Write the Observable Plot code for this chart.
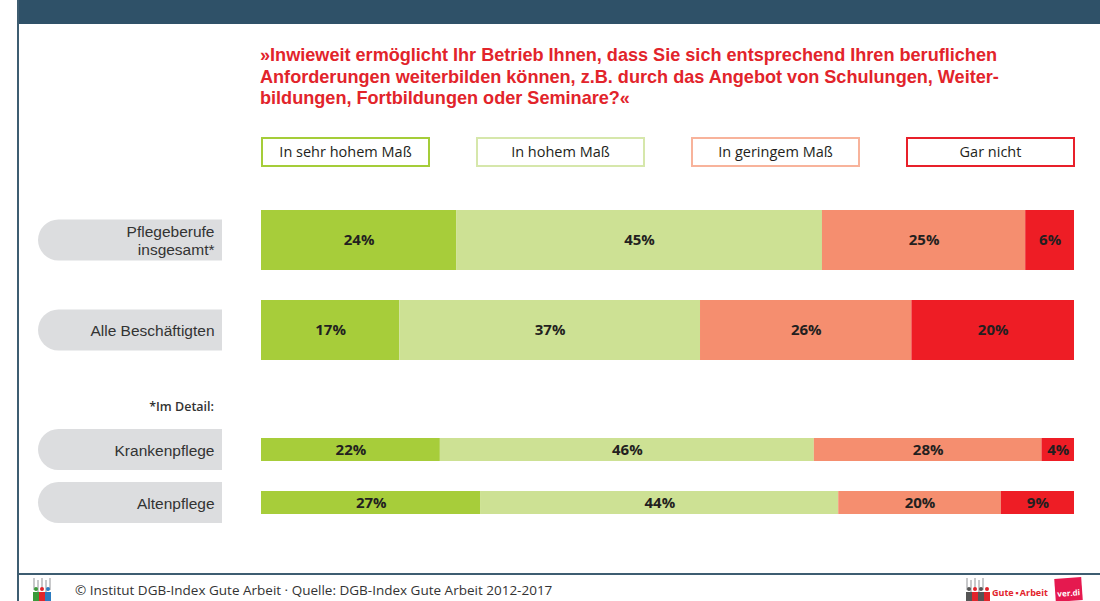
<!DOCTYPE html>
<html><head><meta charset="utf-8">
<script src="https://cdn.jsdelivr.net/npm/d3@7"></script>
<script src="https://cdn.jsdelivr.net/npm/@observablehq/plot@0.6"></script>
<style>
html,body{margin:0;padding:0;background:#fff;}
body{width:1100px;height:601px;position:relative;overflow:hidden;font-family:"Open Sans",sans-serif;color:#231f20;}
.abs{position:absolute;}
#header{left:17px;top:0;width:1083px;height:24px;background:#2f5168;}
#frameLeft{left:17px;top:0;width:2px;height:601px;background:#3e5d71;}
#footLine{left:17px;top:573px;width:1083px;height:2px;background:#3e5d71;}
#question{left:260px;top:44px;color:#e2242b;font-family:"Liberation Sans",Arial,sans-serif;font-size:18.5px;line-height:21.5px;font-weight:bold;white-space:nowrap;transform-origin:0 0;}
#question span{display:inline-block;}
.legbox{top:137px;height:30px;width:169px;box-sizing:border-box;border:2px solid;text-align:center;line-height:26px;font-size:14.5px;color:#231f20;}
#detail{left:0;width:214px;top:398px;text-align:right;font-size:12.5px;font-weight:600;color:#333;}
#foot{left:75px;top:581px;font-size:13.5px;color:#333;white-space:nowrap;}
#gute{left:992px;top:586px;font-size:9px;font-weight:bold;color:#e2242b;font-family:"Open Sans",sans-serif;white-space:nowrap;}
#verdi{left:1055px;top:578px;width:27px;height:23px;background:#e5194f;color:#fff;font-size:8px;font-weight:bold;text-align:center;line-height:30px;transform:rotate(-4deg);}
.ico{position:absolute;}
svg{position:absolute;left:0;}
</style>
</head><body>
<div id="header" class="abs"></div>
<div id="frameLeft" class="abs"></div>
<div id="question" class="abs"></div>
<div id="legend"></div>
<div id="detail" class="abs"></div>
<div id="footLine" class="abs"></div>
<div id="foot" class="abs"></div>
<div id="gute" class="abs"></div>
<div id="verdi" class="abs">ver.di</div>
<script>
// ---- data ----
const questionLines = [
  "»Inwieweit ermöglicht Ihr Betrieb Ihnen, dass Sie sich entsprechend Ihren beruflichen",
  "Anforderungen weiterbilden können, z.B. durch das Angebot von Schulungen, Weiter-",
  "bildungen, Fortbildungen oder Seminare?«"
];
const categories = ["In sehr hohem Maß", "In hohem Maß", "In geringem Maß", "Gar nicht"];
const mainRows = ["Pflegeberufe\ninsgesamt*", "Alle Beschäftigten"];
const detailRows = ["Krankenpflege", "Altenpflege"];
const pflegeInsgesamt = [24, 45, 25, 6];
const alleBeschaeftigten = [17, 37, 26, 20];
const krankenpflege = [22, 46, 28, 4];
const altenpflege = [27, 44, 20, 9];
const detailLabel = "*Im Detail:";
const footerText = "© Institut DGB-Index Gute Arbeit · Quelle: DGB-Index Gute Arbeit 2012-2017";
const logoText = "Gute\u2009\u25AA\u2009Arbeit";

// ---- styles ----
const barColors = ["#a7cd3a", "#cde194", "#f58e6f", "#ee1d25"];
const legendBorders = ["#a5cd39", "#d6e7ab", "#f8b39b", "#e8202a"];

// question
const q = document.getElementById("question");
questionLines.forEach((l, i) => {
  const s = document.createElement("span"); s.textContent = l;
  q.appendChild(s); if (i < questionLines.length - 1) q.appendChild(document.createElement("br"));
});
const w1 = q.querySelector("span").getBoundingClientRect().width;
q.style.transform = `scaleX(${737 / w1})`;

// legend
const lg = document.getElementById("legend");
categories.forEach((c, i) => {
  const d = document.createElement("div");
  d.className = "abs legbox";
  d.style.left = (261 + i * 215) + "px";
  d.style.borderColor = legendBorders[i];
  d.textContent = c;
  lg.appendChild(d);
});
document.getElementById("detail").textContent = detailLabel;
document.getElementById("foot").textContent = footerText;
document.getElementById("gute").textContent = logoText;

function toData(rows, series) {
  return rows.flatMap((r, i) => series[i].map((v, j) => ({row: r, answer: categories[j], value: v})));
}

function barPlot(rows, series, top, height, marginTop, marginBottom, paddingInner) {
  const data = toData(rows, series);
  const plot = Plot.plot({
    width: 1100, height,
    marginLeft: 261, marginRight: 26, marginTop, marginBottom,
    x: {domain: [0, 100], axis: null},
    y: {domain: rows, axis: null, paddingInner, paddingOuter: 0},
    color: {domain: categories, range: barColors},
    style: {background: "transparent", fontFamily: "Open Sans, sans-serif", overflow: "visible"},
    marks: [
      Plot.barX(data, Plot.stackX({x: "value", y: "row", fill: "answer"})),
      Plot.text(data, Plot.stackX({x: "value", y: "row", text: d => d.value + "%", fill: "#231f20", fontWeight: "bold", fontSize: 15})),
      Plot.text(rows, {y: d => d, text: d => d, frameAnchor: "left", dx: -47, textAnchor: "end",
        fontFamily: "Liberation Sans, Arial, sans-serif", fontSize: 15.5, fill: "#333", lineHeight: 1.15})
    ]
  });
  plot.style.top = top + "px";
  document.body.appendChild(plot);
  // label pills behind the category names, placed from the y scale
  const ys = plot.scale("y");
  const band = ys.apply ? ys.apply : d3.scaleBand(ys.domain, ys.range).paddingInner(paddingInner).paddingOuter(0);
  const bw = ys.bandwidth;
  const right = 261 - 39, left = 38, r = 20.5;
  const svg = d3.select(plot);
  rows.forEach(row => {
    const cy = band(row) + bw / 2;
    svg.insert("path", ":first-child")
      .attr("fill", "#dcdddf")
      .attr("d", `M${right},${cy - r}H${left + r}A${r},${r} 0 0 0 ${left + r},${cy + r}H${right}Z`);
  });
}
barPlot(mainRows, [pflegeInsgesamt, alleBeschaeftigten], 195, 180, 15, 14, 0.3315);
barPlot(detailRows, [krankenpflege, altenpflege], 420, 110, 18, 15, 0.561);

// small footer icons (decorative)
function icon(x0, colors) {
  const grays = [0, 4, 8, 12, 16];
  grays.forEach((g, i) => {
    const d = document.createElement("div"); d.className = "ico";
    Object.assign(d.style, {left: (x0 + g) + "px", top: (578 + (i % 2) * 2) + "px", width: "2px", height: "12px", background: "#c8c9cb"});
    document.body.appendChild(d);
  });
  colors.forEach((c, i) => {
    const h = document.createElement("div"); h.className = "ico";
    Object.assign(h.style, {left: (x0 + 1 + i * 6) + "px", top: "587px", width: "4px", height: "4px", borderRadius: "2px", background: c});
    const b = document.createElement("div"); b.className = "ico";
    Object.assign(b.style, {left: (x0 + i * 6) + "px", top: "592px", width: "6px", height: "9px", background: c});
    document.body.appendChild(h); document.body.appendChild(b);
  });
}
icon(33, ["#3a9a3a", "#e2242b", "#2b7bc0"]);
icon(966, ["#555", "#e2242b", "#555", "#e2242b"]);
</script>
</body></html>
